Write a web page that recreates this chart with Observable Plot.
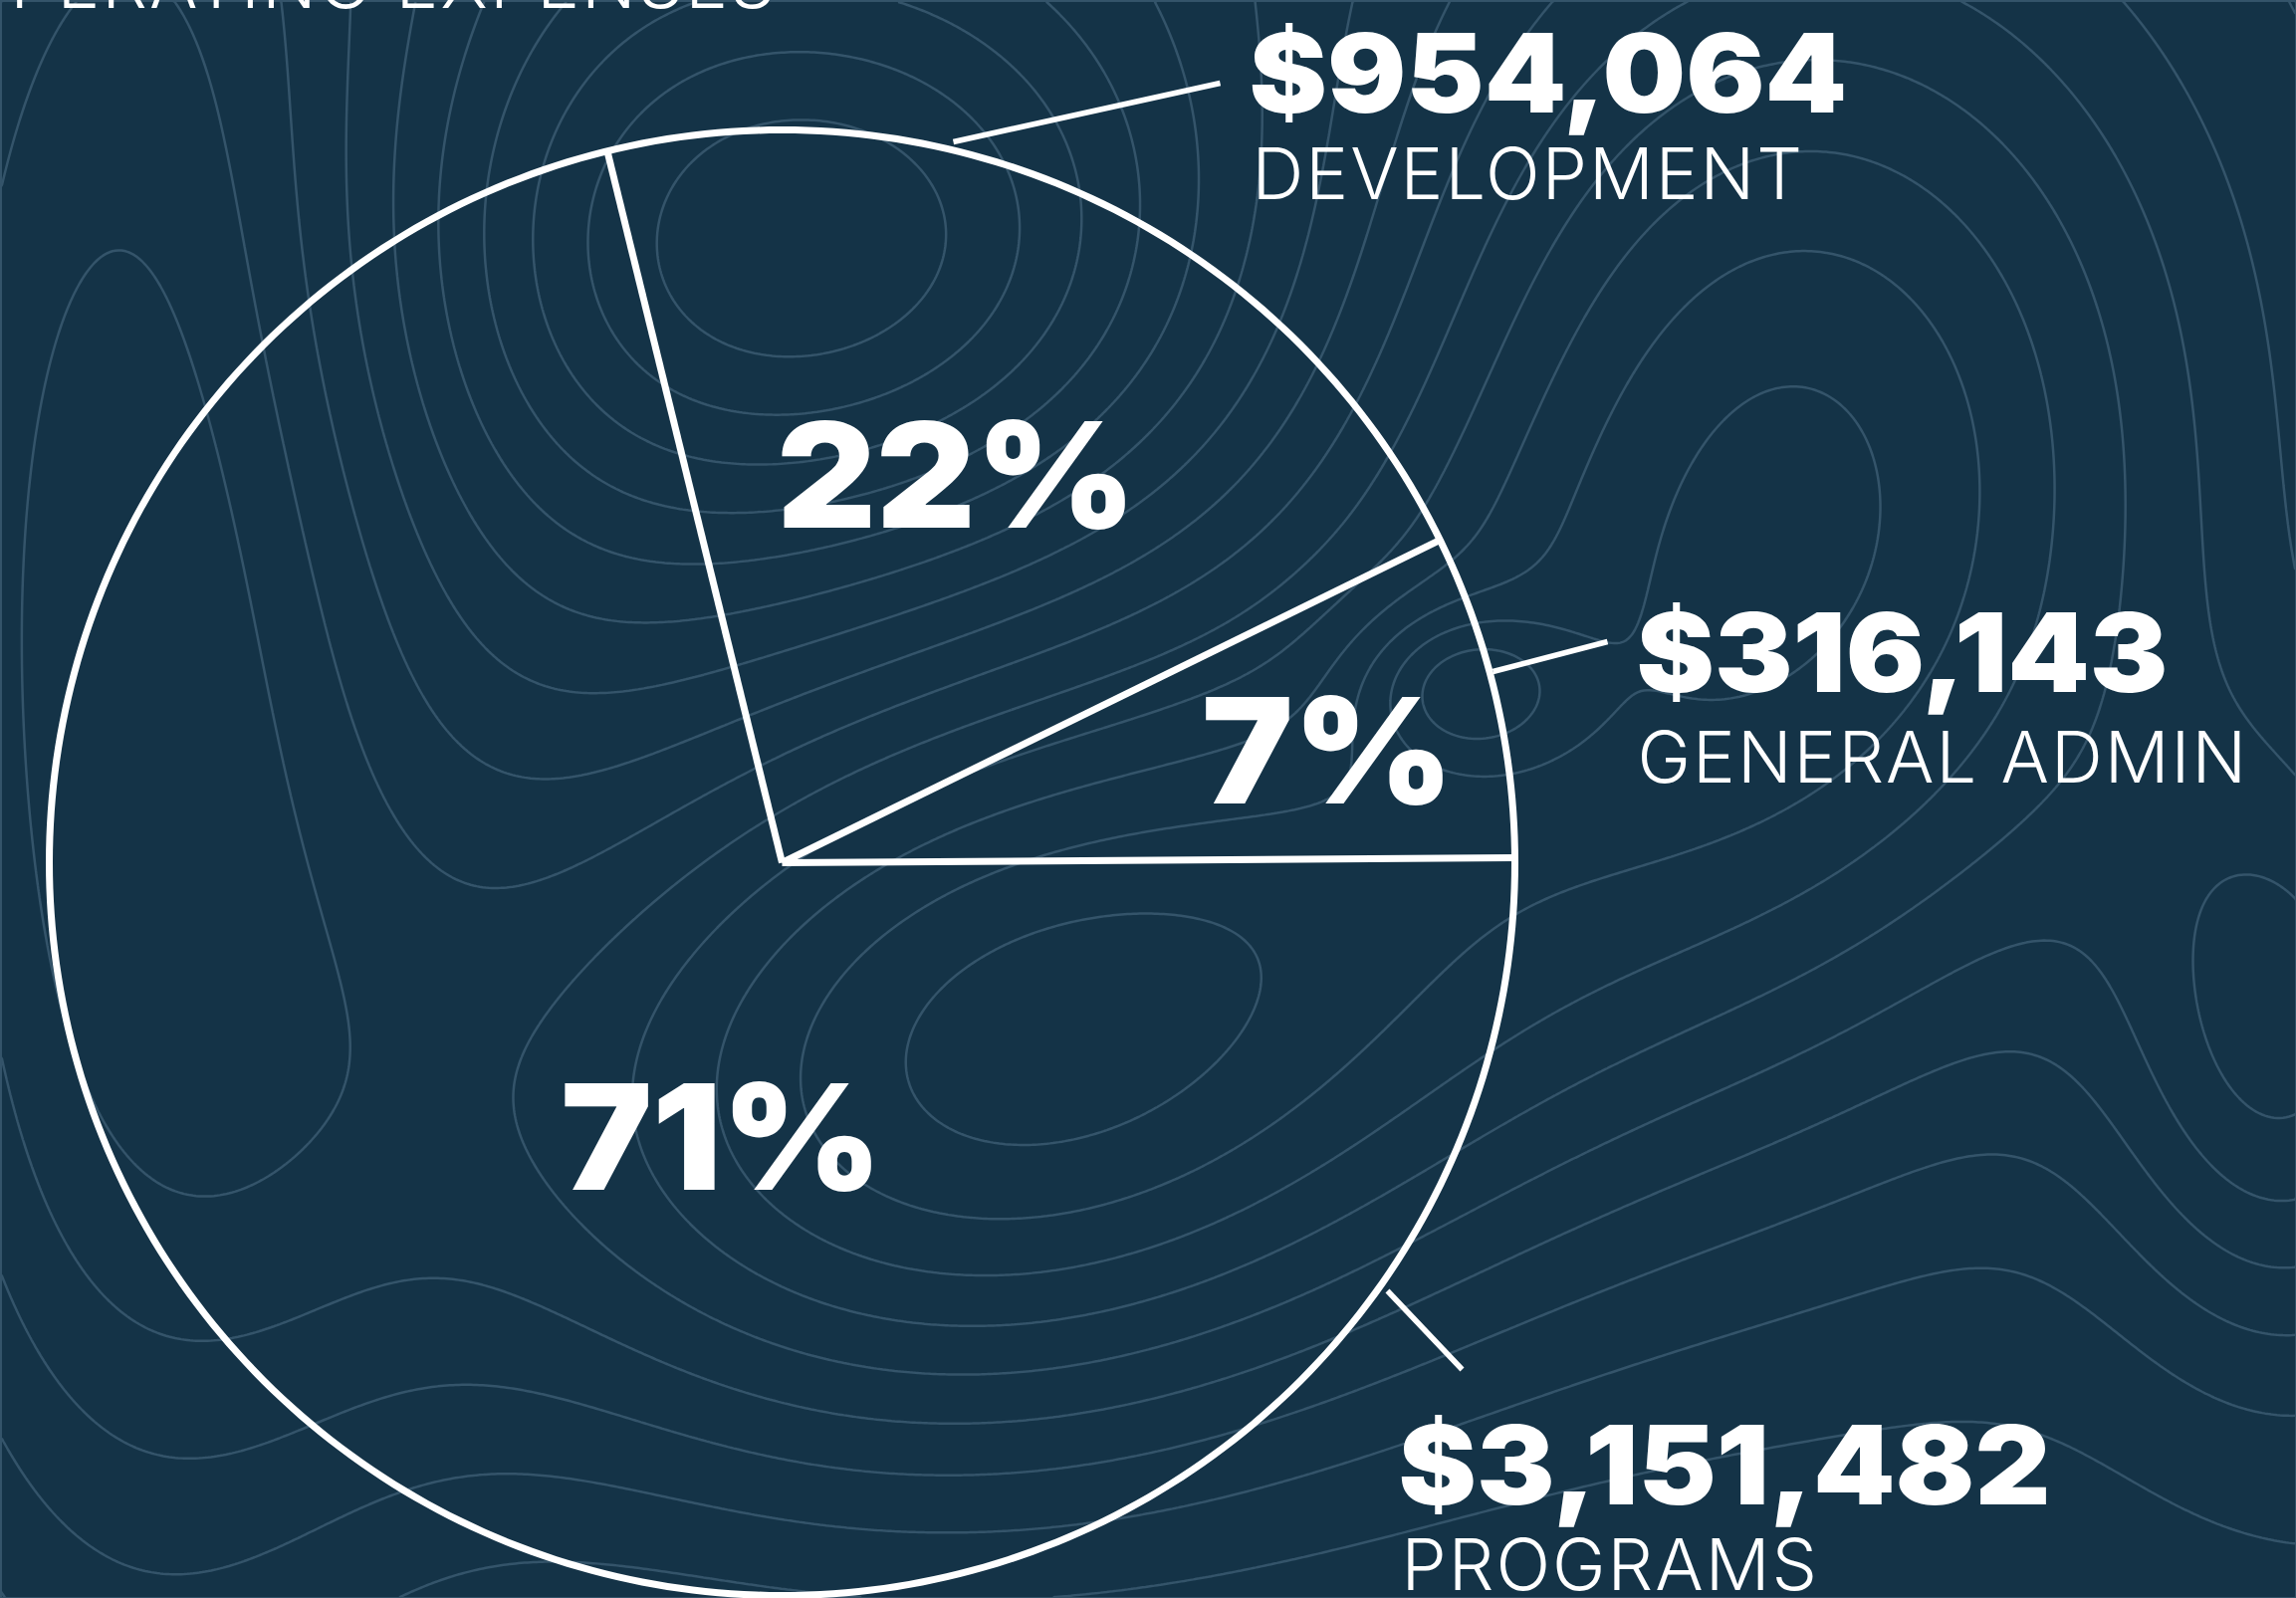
<!DOCTYPE html>
<html>
<head>
<meta charset="utf-8">
<script src="https://cdn.jsdelivr.net/npm/d3@7"></script>
<script src="https://cdn.jsdelivr.net/npm/@observablehq/plot@0.6"></script>
<style>
  html, body { margin: 0; padding: 0; background: #143347; overflow: hidden; }
  #chart svg { display: block; }
</style>
</head>
<body>
<div id="chart"></div>
<script>
// ---------- DATA ----------
const chartTitle = "OPERATING EXPENSES";
const categories = ["Development", "General Admin", "Programs"];
const categoryLabels = ["DEVELOPMENT", "GENERAL ADMIN", "PROGRAMS"];
const amounts = [954064, 316143, 3151482];

// ---------- LAYOUT (pixels, relative to the pie centre) ----------
const W = 2306, H = 1605;
const cx = 785, cy = 866, R = 736;
const startDeg = -13.8;                       // where the first slice begins (clockwise from north)
const pctAnchor    = [[175, -337], [548, -60], [-61, 328]];   // centre x, baseline
const leaderFrom   = [[172, -724], [714, -192], [608, 430]];
const leaderTo     = [[440, -783], [829, -222], [683, 509]];
const amountAnchor = [[469, -754], [858, -172], [619, 644]];  // left x, baseline
const labelAnchor  = [[472, -667], [859, -81], [622, 730]];   // left x, baseline
const titleAnchor  = [-5, -859];                              // right x, baseline

// ---------- derived table ----------
const total = d3.sum(amounts);
const rows = categories.map((c, i) => ({
  category: c, label: categoryLabels[i], amount: amounts[i],
  pct: Math.round(100 * amounts[i] / total) + "%",
  money: d3.format("$,")(amounts[i])
}));
const arcs = d3.pie().sort(null).value(d => d.amount)
  .startAngle(startDeg * Math.PI / 180)
  .endAngle(startDeg * Math.PI / 180 + 2 * Math.PI)(rows);

const polar = (a, r) => ({x: r * Math.sin(a), y: -r * Math.cos(a)});
const circle = d3.range(0, 361).map(k => polar(k * Math.PI / 180, R));
const radials = arcs.map(a => ({x1: 0, y1: 0, x2: polar(a.startAngle, R).x, y2: polar(a.startAngle, R).y}));

const pctRows = rows.map((d, i) => ({text: d.pct, x: pctAnchor[i][0], y: pctAnchor[i][1]}));
const amountRows = rows.map((d, i) => ({text: d.money, x: amountAnchor[i][0], y: amountAnchor[i][1]}));
const labelRows = rows.map((d, i) => ({text: d.label, x: labelAnchor[i][0], y: labelAnchor[i][1]}));
const leaders = rows.map((d, i) => ({x1: leaderFrom[i][0], y1: leaderFrom[i][1], x2: leaderTo[i][0], y2: leaderTo[i][1]}));

// decorative topographic texture (background only)
function bump(X, Y, x0, y0, sx, sy, a, rot = 0) {
  const c = Math.cos(rot), s = Math.sin(rot), dx = X - x0, dy = Y - y0;
  const u = (dx * c + dy * s) / sx, v = (-dx * s + dy * c) / sy;
  return a * Math.exp(-(u * u + v * v) / 2);
}
function terrain(X, Y) {
  return bump(X, Y, 1015, 1060, 430, 300, 1, -0.3)
    + bump(X, Y, 1800, 480, 320, 420, 0.8)
    + bump(X, Y, 820, 250, 260, 200, -0.5)
    + bump(X, Y, 1470, 690, 70, 55, 0.3)
    + bump(X, Y, 120, 650, 230, 800, 0.7)
    + bump(X, Y, 2300, 1060, 130, 220, 0.45)
    + 0.00012 * X - 0.00008 * Y;
}

const FONT = "Inter, 'Noto Sans', sans-serif";

const chart = Plot.plot({
  width: W, height: H, margin: 0,
  x: {domain: [-cx, W - cx], range: [0, W], axis: null},
  y: {domain: [-cy, H - cy], range: [0, H], axis: null},
  style: {background: "#143347", overflow: "visible"},
  marks: [
    Plot.contour({
      x1: -cx, x2: W - cx, y1: -cy, y2: H - cy,
      value: (x, y) => terrain(x + cx, y + cy),
      thresholds: d3.range(-0.4, 1.25, 0.1),
      fill: "none", stroke: "#34546a", strokeWidth: 2.5, pixelSize: 3
    }),
    Plot.line(circle, {x: "x", y: "y", stroke: "white", strokeWidth: 7}),
    Plot.link(radials, {x1: "x1", y1: "y1", x2: "x2", y2: "y2", stroke: "white", strokeWidth: 7, strokeLinecap: "butt"}),
    Plot.link(leaders, {x1: "x1", y1: "y1", x2: "x2", y2: "y2", stroke: "white", strokeWidth: 5.5}),
    Plot.text(pctRows, {x: "x", y: "y", text: "text", textAnchor: "middle", lineAnchor: "bottom",
      fontSize: 147, fontWeight: 900, fontFamily: FONT, fill: "white", ariaDescription: "pct"}),
    Plot.text(amountRows, {x: "x", y: "y", text: "text", textAnchor: "start", lineAnchor: "bottom",
      fontSize: 110, fontWeight: 900, fontFamily: FONT, fill: "white", ariaDescription: "amount"}),
    Plot.text(labelRows, {x: "x", y: "y", text: "text", textAnchor: "start", lineAnchor: "bottom",
      fontSize: 72, fontWeight: 300, fontFamily: FONT, fill: "white", ariaDescription: "label"}),
    Plot.text([chartTitle], {x: titleAnchor[0], y: titleAnchor[1], text: d => d, textAnchor: "end", lineAnchor: "bottom",
      fontSize: 72, fontWeight: 300, fontFamily: FONT, fill: "white", ariaDescription: "title"})
  ]
});
document.getElementById("chart").appendChild(chart);

// typographic tweaks
const sel = d3.select(chart);
sel.selectAll('g[aria-description="label"] text, g[aria-description="title"] text')
  .style("letter-spacing", "2px");
function widen(selector, k) {
  sel.selectAll(selector).each(function () {
    const t = this.getAttribute("transform") || "";
    this.setAttribute("transform", t + ` scale(${k},1)`);
  });
}
widen('g[aria-description="amount"] text', 1.07);
widen('g[aria-description="pct"] text', 1.05);
</script>
</body>
</html>
